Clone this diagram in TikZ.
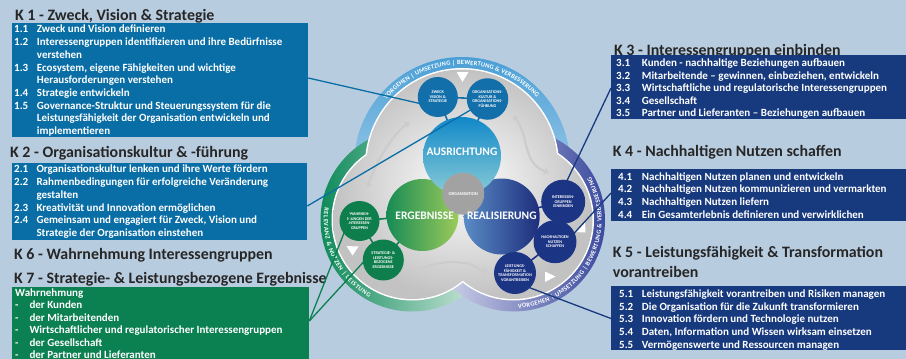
\documentclass[tikz,border=0pt]{standalone}
\usepackage{fontspec}
\setmainfont{Carlito}
\usetikzlibrary{arrows.meta,decorations.text,calc}
\definecolor{bgc}{HTML}{B8CCE0}
\definecolor{kblue}{HTML}{0A6EA6}
\definecolor{kgreen}{HTML}{0B8050}
\definecolor{knavy}{HTML}{173A7E}
\definecolor{ttlc}{HTML}{262626}
\definecolor{cblue}{HTML}{136FA9}
\definecolor{cgreen}{HTML}{0E7E4D}
\definecolor{cnavy}{HTML}{1C3484}
\definecolor{ringTa}{HTML}{4A9FD6}
\definecolor{ringTb}{HTML}{D8E9F4}
\definecolor{ringLa}{HTML}{0E8A5A}
\definecolor{ringLb}{HTML}{EAF5EF}
\definecolor{ringRa}{HTML}{E4E4F3}
\definecolor{ringRb}{HTML}{3A4A9E}
\definecolor{ausA}{HTML}{1188C9}
\definecolor{ausB}{HTML}{8ACCD6}
\definecolor{ergA}{HTML}{178B55}
\definecolor{ergB}{HTML}{9CCB5A}
\definecolor{realA}{HTML}{5A8CC6}
\definecolor{realB}{HTML}{1E2D7C}
\definecolor{orgc}{HTML}{A2A2A2}
\newcommand\ringfont{\fontsize{6.4}{7}\selectfont\bfseries}
\begin{document}
\begin{tikzpicture}[x=1pt,y=-1pt,
  ttl/.style={font=\fontsize{15.9}{18}\selectfont\bfseries,text=ttlc,anchor=base west,inner sep=0pt},
  btxt/.style={font=\fontsize{11}{12}\selectfont\bfseries,text=white,anchor=base west,inner sep=0pt},
  kbox/.style={anchor=north west,inner sep=0pt,outer sep=0pt},
  lnk/.style={line width=1.3pt},
  stub/.style={line width=1.6pt},
  sc/.style={circle,inner sep=0pt,text=white,align=center,font=\fontsize{4.2}{4.6}\selectfont\bfseries},
  bigc/.style={circle,inner sep=0pt},
  bigtxt/.style={inner sep=0pt,text=white,font=\fontsize{11.5}{13}\selectfont\bfseries},
  garr/.style={draw=black!20,line width=2.2pt,{Triangle[width=7pt,length=5pt]}-{Triangle[width=7pt,length=5pt]}},
  ringtxt/.style={decorate,decoration={text along path,text format delimiters={[}{]},text align=fit to path,text color=white,text={#1}}}
]
\useasboundingbox (0,0) rectangle (906,359);
\fill[bgc] (0,0) rectangle (906,359);

% ---------- outer trefoil ring ----------
\coordinate (cT) at (462,165);
\coordinate (cL) at (412,220);
\coordinate (cR) at (513.5,220);
\path[top color=ringTa,bottom color=ringTb] (cT) circle[radius=108];
\path[left color=ringLa,right color=ringLb] (cL) circle[radius=91.5];
\path[left color=ringRa,right color=ringRb] (cR) circle[radius=91.5];
\fill[white] (cT) circle[radius=97] (cL) circle[radius=80.5] (cR) circle[radius=80.5];
\path[inner color=white,outer color=black!24] (cT) circle[radius=95.5] (cL) circle[radius=79] (cR) circle[radius=79];

\path[ringtxt={[\ringfont]VORGEHEN | UMSETZUNG | BEWERTUNG {\&} VERBESSERUNG}] ($(cT)+(221:100.3)$) arc[start angle=221,end angle=318,radius=100.3];
\path[ringtxt={[\ringfont]RELEVANZ {\&} NUTZEN | LEISTUNG}] ($(cL)+(188:88.2)$) arc[start angle=188,end angle=119,radius=88.2];
\path[ringtxt={[\ringfont]VORGEHEN | UMSETZUNG | BEWERTUNG {\&} VERBESSERUNG}] ($(cR)+(87:88.2)$) arc[start angle=87,end angle=-29,radius=88.2];

% ---------- inner gray cycle arrows ----------
\draw[garr] (367,188) .. controls (377,160) and (393,134) .. (410,122);
\draw[garr] (513,115) .. controls (530,138) and (522,162) .. (549,173);
\draw[garr] (411,273) .. controls (430,264) and (450,260) .. (462,263) .. controls (472,262) and (478,270) .. (488,272);

% ---------- centres ----------
\coordinate (paus) at (462,156);
\coordinate (perg) at (422.5,215);
\coordinate (preal) at (501.7,216.5);
\coordinate (porg) at (463.2,193.7);
\coordinate (pzw) at (437.8,97);
\coordinate (pok) at (487.5,99);
\coordinate (pint) at (563.2,201.7);
\coordinate (pnach) at (555,241.7);
\coordinate (pleis) at (515,273);
\coordinate (pwahr) at (359.5,221);
\coordinate (pstrat) at (383.3,260);

% stubs between circles
\draw[stub,cblue] (pzw) -- (pok);
\draw[stub,cblue] (pzw) -- (paus);
\draw[stub,cblue] (pok) -- (paus);
\draw[stub,cnavy] (preal) -- (pint);
\draw[stub,cnavy] (pint) -- (pnach);
\draw[stub,cnavy] (pnach) -- (pleis);
\draw[stub,cnavy] (pleis) -- (preal);
\draw[stub,cgreen] (perg) -- (pwahr);
\draw[stub,cgreen] (pwahr) -- (pstrat);
\draw[stub,cgreen] (pstrat) -- (perg);

% big circles
\node[bigc,minimum size=72pt,left color=ergA,right color=ergB] (erg) at (perg) {};
\node[bigc,minimum size=76pt,left color=realA,right color=realB] (real) at (preal) {};
\node[bigc,minimum size=78pt,top color=ausA,bottom color=ausB] (aus) at (paus) {};
\node[circle,fill=orgc,minimum size=42pt,inner sep=0pt,text=white,font=\fontsize{4.5}{5}\selectfont\bfseries] (orgn) at (porg) {ORGANISATION};
\node[bigtxt] (ausl) at (462,152) {AUSRICHTUNG};
\node[bigtxt] (ergl) at (424.7,216) {ERGEBNISSE};
\node[bigtxt] (reall) at (501.8,216) {REALISIERUNG};

% small circles
\node[sc,fill=cblue,minimum size=40pt] (zw) at (pzw) {ZWECK\\VISION \&\\STRATEGIE};
\node[sc,fill=cblue,minimum size=41.5pt] (ok) at (pok) {ORGANISATIONS-\\KULTUR \&\\ORGANISATIONS-\\FÜHRUNG};
\node[sc,fill=cnavy,minimum size=44pt] (intn) at (pint) {INTERESSEN-\\GRUPPEN\\EINBINDEN};
\node[sc,fill=cnavy,minimum size=43pt] (nach) at (pnach) {NACHHALTIGEN\\NUTZEN\\SCHAFFEN};
\node[sc,fill=cnavy,minimum size=42pt] (leis) at (pleis) {LEISTUNGS-\\FÄHIGKEIT \&\\TRANSFORMATION\\VORANTREIBEN};
\node[sc,fill=cgreen,minimum size=40pt] (wahr) at (pwahr) {WAHRNEH-\\MUNGEN DER\\INTERESSEN-\\GRUPPEN};
\node[sc,fill=cgreen,minimum size=41pt] (strat) at (pstrat) {STRATEGIE- \&\\LEISTUNGS-\\BEZOGENE\\ERGEBNISSE};

% white direction triangles
\fill[white] (456.5,72) -- (468.5,72) -- (462.5,82) -- cycle;
\fill[white] (346.5,246) -- (358.5,246.5) -- (352.5,255.5) -- cycle;
\fill[white] (575,232) -- (585,222) -- (585.5,232.5) -- cycle;
\fill[white] (545,271.5) -- (545,282) -- (555.5,276.5) -- cycle;

% ---------- titles ----------
\node[ttl] (k1) at (15,20) {K 1 - Zweck, Vision \& Strategie};
\node[ttl] (k2) at (10,157.3) {K 2 - Organisationskultur \& -führung};
\node[ttl] (k6) at (14,259.3) {K 6 - Wahrnehmung Interessengruppen};
\node[ttl] (k7) at (14,283.3) {K 7 - Strategie- \& Leistungsbezogene Ergebnisse};
\node[ttl] (k3) at (614,55) {K 3 - Interessengruppen einbinden};
\node[ttl] (k4) at (612.7,156) {K 4 - Nachhaltigen Nutzen schaffen};
\node[ttl] (k5a) at (612.7,257.7) {K 5 - Leistungsfähigkeit \& Transformation};
\node[ttl] (k5b) at (612.7,277.7) {vorantreiben};

% ---------- boxes ----------
\node[kbox,fill=kblue,minimum width=296.3pt,minimum height=114pt] (k1box) at (12,22.7) {};
\node[kbox,fill=kblue,minimum width=295.3pt,minimum height=77.3pt] (k2box) at (12,162.7) {};
\node[kbox,fill=kgreen,minimum width=297.3pt,minimum height=71.7pt] (k7box) at (12,287.3) {};
\node[kbox,fill=knavy,minimum width=295pt,minimum height=64.3pt] (k3box) at (611,55) {};
\node[kbox,fill=knavy,minimum width=295pt,minimum height=51.4pt] (k4box) at (611,169.3) {};
\node[kbox,fill=knavy,minimum width=295pt,minimum height=64pt] (k5box) at (611,286) {};

% K1 text
\foreach \y/\n [count=\i] in {29.3/1.1, 42/1.2, 67.4/1.3, 92.8/1.4, 105.5/1.5}
  \node[btxt] (k1n\i) at (14,\y+3.6) {\n};
\foreach \y/\t [count=\i] in {29.3/{Zweck und Vision definieren},
  42/{Interessengruppen identifizieren und ihre Bedürfnisse},
  54.7/{verstehen},
  67.4/{Ecosystem, eigene Fähigkeiten und wichtige},
  80.1/{Herausforderungen verstehen},
  92.8/{Strategie entwickeln},
  105.5/{Governance-Struktur und Steuerungssystem für die},
  118.2/{Leistungsfähigkeit der Organisation entwickeln und},
  130.9/{implementieren}}
  \node[btxt] (k1t\i) at (36.7,\y+3.6) {\t};

% K2 text
\foreach \y/\n [count=\i] in {169.3/2.1, 182/2.2, 207.4/2.3, 220.1/2.4}
  \node[btxt] (k2n\i) at (14,\y+3.6) {\n};
\foreach \y/\t [count=\i] in {169.3/{Organisationskultur lenken und ihre Werte fördern},
  182/{Rahmenbedingungen für erfolgreiche Veränderung},
  194.7/{gestalten},
  207.4/{Kreativität und Innovation ermöglichen},
  220.1/{Gemeinsam und engagiert für Zweck, Vision und},
  232.8/{Strategie der Organisation einstehen}}
  \node[btxt] (k2t\i) at (36.3,\y+3.6) {\t};

% K7 text
\node[btxt] (k7h) at (15,292.7+3.6) {Wahrnehmung};
\foreach \y/\t [count=\i] in {305/{der Kunden},
  317.6/{der Mitarbeitenden},
  330.2/{Wirtschaftlicher und regulatorischer Interessengruppen},
  342.8/{der Gesellschaft},
  355/{der Partner und Lieferanten}}
  {\node[btxt] (k7d\i) at (15,\y+3.6) {-};
   \node[btxt] (k7t\i) at (29.3,\y+3.6) {\t};}

% K3 text
\foreach \y/\n/\t [count=\i] in {63.3/3.1/{Kunden - nachhaltige Beziehungen aufbauen},
  75.8/3.2/{Mitarbeitende – gewinnen, einbeziehen, entwickeln},
  88.3/3.3/{Wirtschaftliche und regulatorische Interessengruppen},
  100.8/3.4/{Gesellschaft},
  113.3/3.5/{Partner und Lieferanten – Beziehungen aufbauen}}
  {\node[btxt] (k3n\i) at (616,\y+3.6) {\n};
   \node[btxt] (k3t\i) at (641.7,\y+3.6) {\t};}

% K4 text
\foreach \y/\n/\t [count=\i] in {176.7/4.1/{Nachhaltigen Nutzen planen und entwickeln},
  189.3/4.2/{Nachhaltigen Nutzen kommunizieren und vermarkten},
  201.9/4.3/{Nachhaltigen Nutzen liefern},
  214.5/4.4/{Ein Gesamterlebnis definieren und verwirklichen}}
  {\node[btxt] (k4n\i) at (618,\y+3.6) {\n};
   \node[btxt] (k4t\i) at (641.7,\y+3.6) {\t};}

% K5 text
\foreach \y/\n/\t [count=\i] in {294/5.1/{Leistungsfähigkeit vorantreiben und Risiken managen},
  306.6/5.2/{Die Organisation für die Zukunft transformieren},
  319.2/5.3/{Innovation fördern und Technologie nutzen},
  331.8/5.4/{Daten, Information und Wissen wirksam einsetzen},
  344.4/5.5/{Vermögenswerte und Ressourcen managen}}
  {\node[btxt] (k5n\i) at (619,\y+3.6) {\n};
   \node[btxt] (k5t\i) at (641.7,\y+3.6) {\t};}

% ---------- connectors from boxes ----------
\coordinate (a1) at (308.3,78);   \coordinate (e1) at (422,104);
\coordinate (a2) at (307.3,206);  \coordinate (e2) at (470.5,110);
\coordinate (a7) at (309.3,321);  \coordinate (e7a) at (351.5,214); \coordinate (e7b) at (369,256);
\coordinate (a3) at (611,88);     \coordinate (e3) at (563.3,188.5);
\coordinate (a4) at (611,193);    \coordinate (e4) at (568,240);
\coordinate (a5) at (611,318.5);  \coordinate (e5) at (526.5,286.5);
\draw[lnk,kblue] (a1) -- (e1);
\draw[lnk,kblue] (a2) -- (e2);
\draw[lnk,kgreen] (a7) -- (e7a);
\draw[lnk,kgreen] (a7) -- (e7b);
\draw[lnk,knavy] (a3) -- (e3);
\draw[lnk,knavy] (a4) -- (e4);
\draw[lnk,knavy] (a5) -- (e5);
\end{tikzpicture}
\end{document}
